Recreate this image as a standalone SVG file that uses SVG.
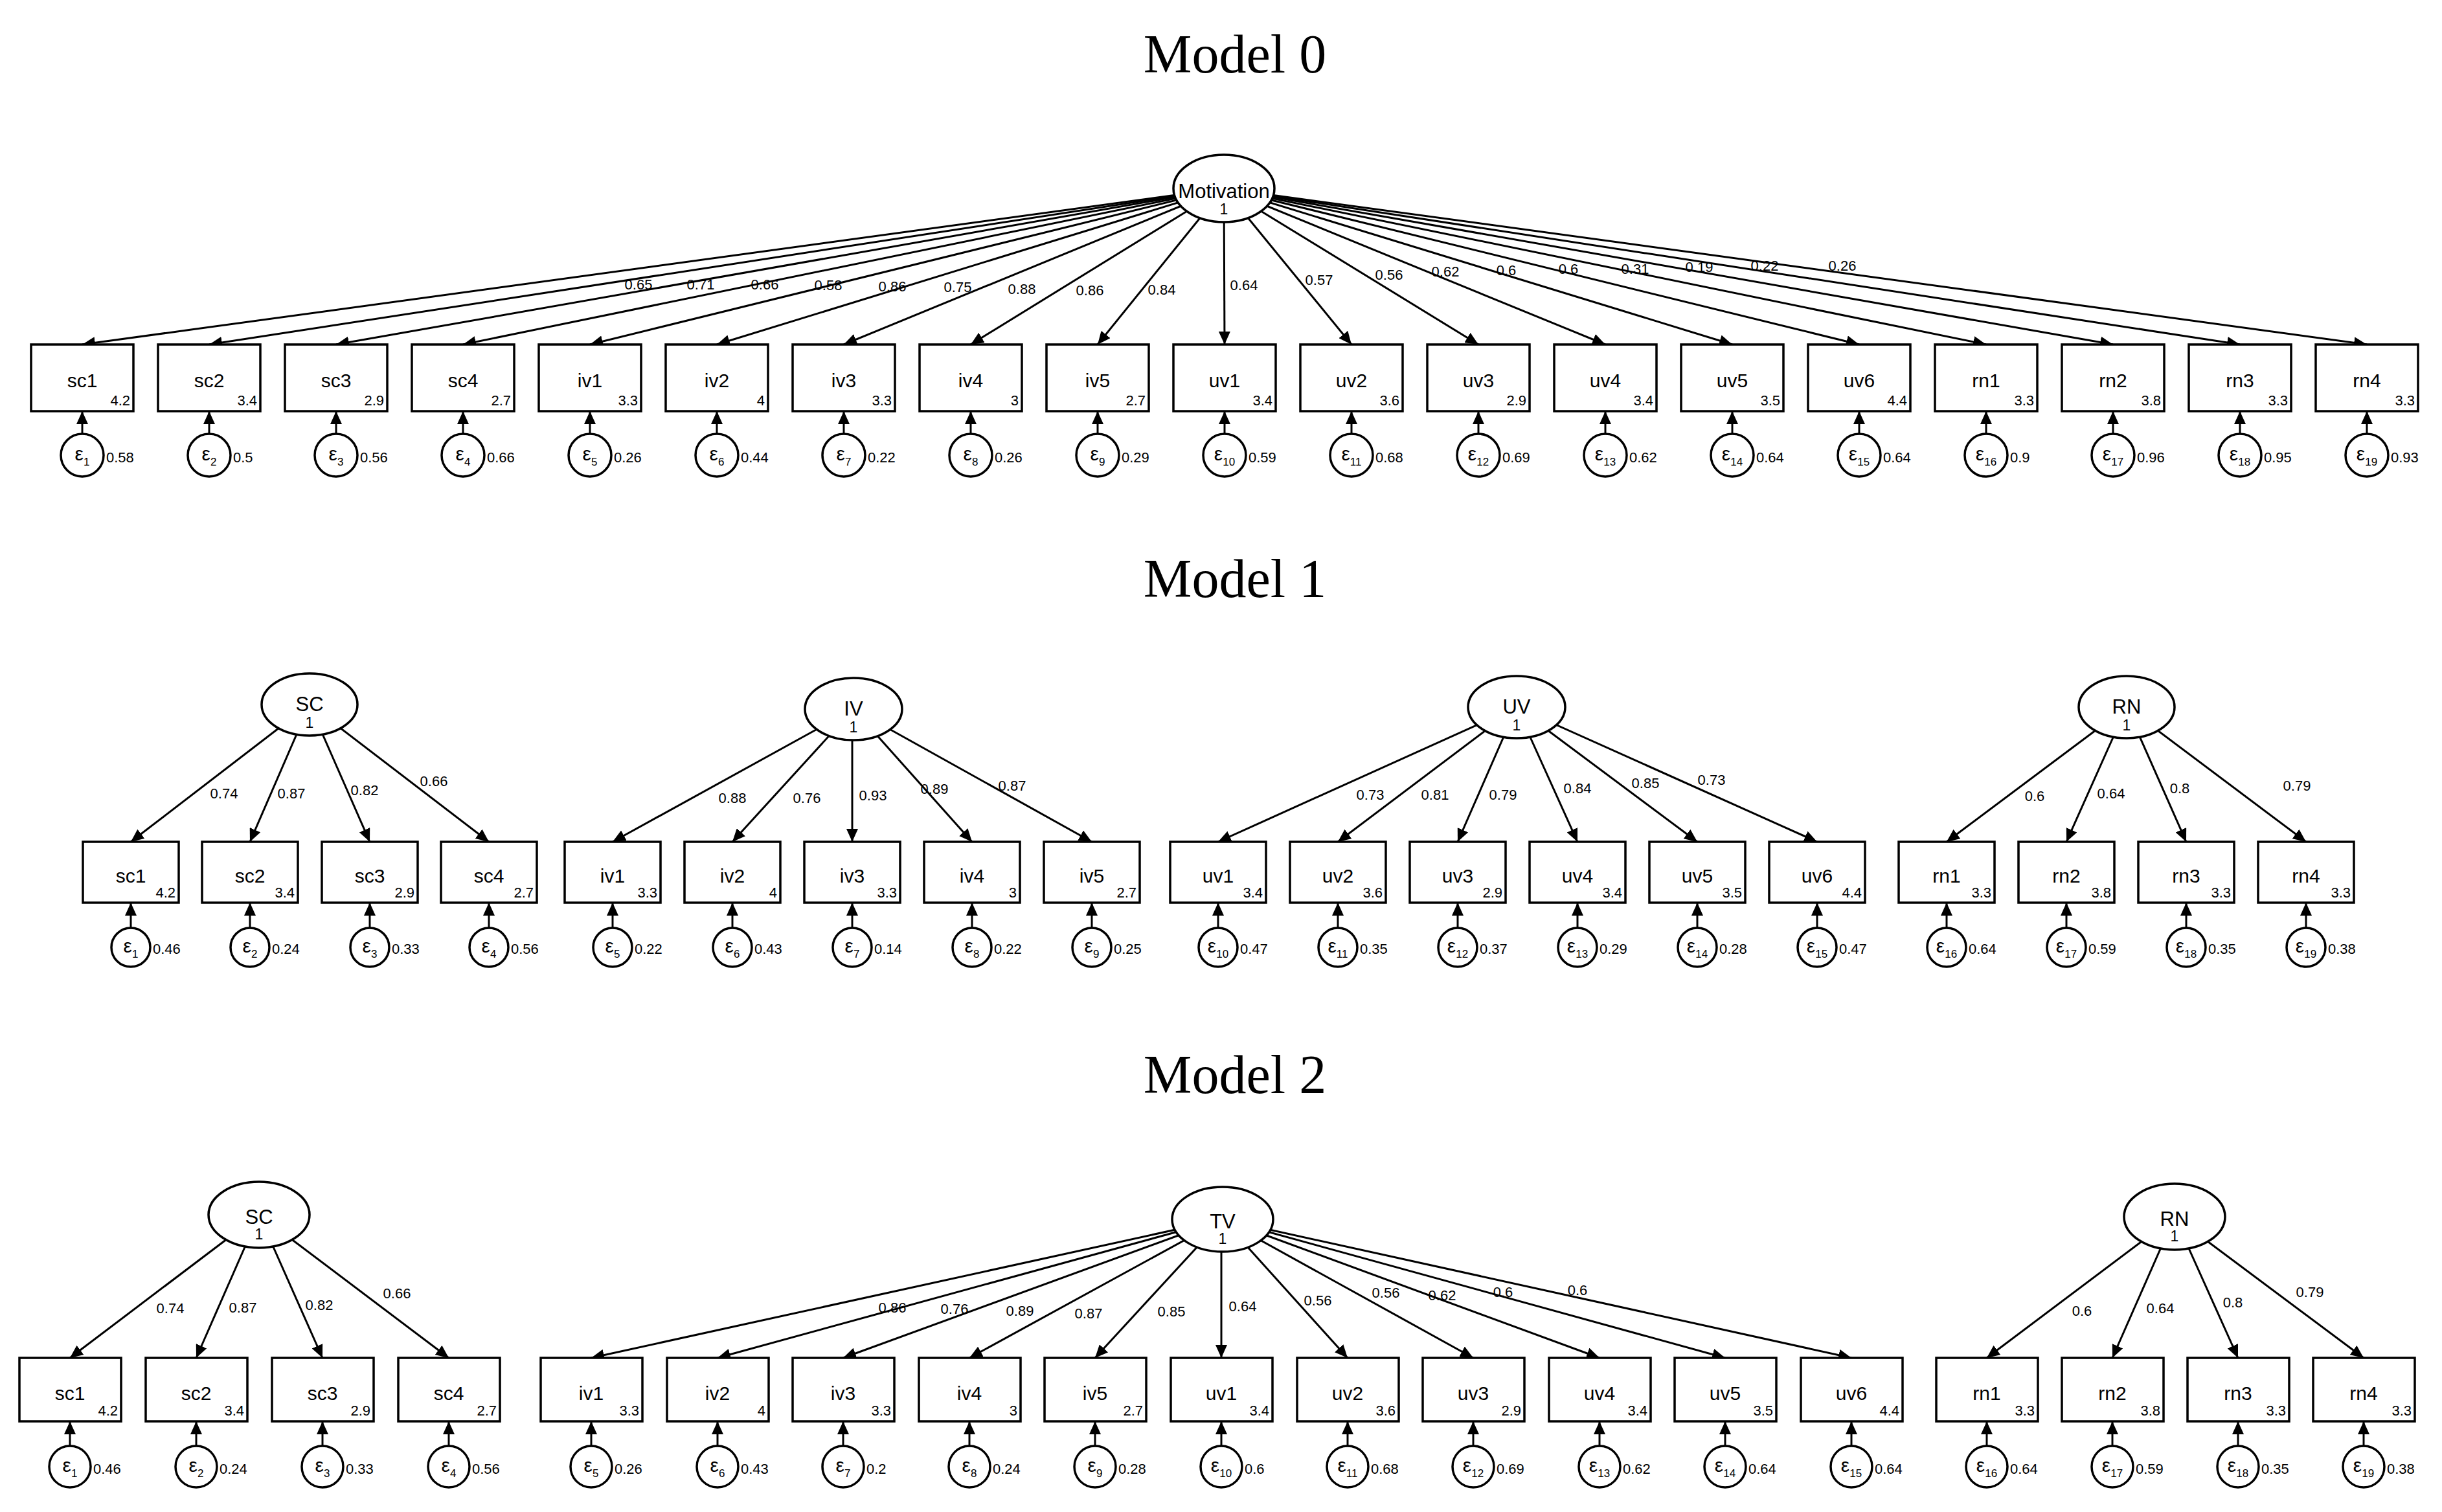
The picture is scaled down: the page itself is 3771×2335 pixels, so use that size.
<svg xmlns="http://www.w3.org/2000/svg" width="3771" height="2335" viewBox="0 0 3771 2335">
<style>
.t{font-family:"Liberation Serif",serif;font-size:84px;text-anchor:middle}
.lv ellipse{fill:#fff;stroke:#000;stroke-width:3.5}
.lv .n{font-family:"Liberation Sans",Arial,sans-serif;font-size:31px;text-anchor:middle}
.lv .v{font-family:"Liberation Sans",Arial,sans-serif;font-size:23px;text-anchor:middle}
.ob rect{fill:#fff;stroke:#000;stroke-width:3.5}
.ob .n{font-family:"Liberation Sans",Arial,sans-serif;font-size:30px;text-anchor:middle}
.ob .m{font-family:"Liberation Sans",Arial,sans-serif;font-size:22px;text-anchor:end}
.er circle{fill:#fff;stroke:#000;stroke-width:3.5}
.er .e{font-family:"Liberation Sans",Arial,sans-serif;font-size:30px;text-anchor:middle}
.er .s{font-size:17px}
.er .v{font-family:"Liberation Sans",Arial,sans-serif;font-size:22px}
#connectors line{stroke:#000;stroke-width:3;marker-end:url(#ah)}
.pl{font-family:"Liberation Sans",Arial,sans-serif;font-size:22px;text-anchor:middle}
</style>
<defs>
<marker id="ah" markerUnits="userSpaceOnUse" markerWidth="22" markerHeight="18" refX="20" refY="9" orient="auto"><path d="M0,0 L20,9 L0,18 z" fill="#000"/></marker>
</defs>
<rect width="3771" height="2335" fill="#fff"/>
<text class="t" x="1907" y="112">Model 0</text>
<text class="t" x="1907" y="922">Model 1</text>
<text class="t" x="1907" y="1688">Model 2</text>

<g id="connectors">
<!-- Model 0 -->
<line x1="1890" y1="291" x2="127" y2="532"/><line x1="1890" y1="291" x2="323" y2="532"/><line x1="1890" y1="291" x2="519" y2="532"/><line x1="1890" y1="291" x2="715" y2="532"/><line x1="1890" y1="291" x2="911" y2="532"/><line x1="1890" y1="291" x2="1107" y2="532"/><line x1="1890" y1="291" x2="1303" y2="532"/><line x1="1890" y1="291" x2="1499" y2="532"/><line x1="1890" y1="291" x2="1695" y2="532"/><line x1="1890" y1="291" x2="1891" y2="532"/><line x1="1890" y1="291" x2="2087" y2="532"/><line x1="1890" y1="291" x2="2283" y2="532"/><line x1="1890" y1="291" x2="2479" y2="532"/><line x1="1890" y1="291" x2="2675" y2="532"/><line x1="1890" y1="291" x2="2871" y2="532"/><line x1="1890" y1="291" x2="3067" y2="532"/><line x1="1890" y1="291" x2="3263" y2="532"/><line x1="1890" y1="291" x2="3459" y2="532"/><line x1="1890" y1="291" x2="3655" y2="532"/>
<line x1="127" y1="703" x2="127" y2="635"/><line x1="323" y1="703" x2="323" y2="635"/><line x1="519" y1="703" x2="519" y2="635"/><line x1="715" y1="703" x2="715" y2="635"/><line x1="911" y1="703" x2="911" y2="635"/><line x1="1107" y1="703" x2="1107" y2="635"/><line x1="1303" y1="703" x2="1303" y2="635"/><line x1="1499" y1="703" x2="1499" y2="635"/><line x1="1695" y1="703" x2="1695" y2="635"/><line x1="1891" y1="703" x2="1891" y2="635"/><line x1="2087" y1="703" x2="2087" y2="635"/><line x1="2283" y1="703" x2="2283" y2="635"/><line x1="2479" y1="703" x2="2479" y2="635"/><line x1="2675" y1="703" x2="2675" y2="635"/><line x1="2871" y1="703" x2="2871" y2="635"/><line x1="3067" y1="703" x2="3067" y2="635"/><line x1="3263" y1="703" x2="3263" y2="635"/><line x1="3459" y1="703" x2="3459" y2="635"/><line x1="3655" y1="703" x2="3655" y2="635"/>
<!-- Model 1 -->
<line x1="478" y1="1088" x2="202" y2="1300"/><line x1="478" y1="1088" x2="386" y2="1300"/><line x1="478" y1="1088" x2="571" y2="1300"/><line x1="478" y1="1088" x2="755" y2="1300"/>
<line x1="1318" y1="1095" x2="946" y2="1300"/><line x1="1318" y1="1095" x2="1131" y2="1300"/><line x1="1316" y1="1095" x2="1316" y2="1300"/><line x1="1318" y1="1095" x2="1501" y2="1300"/><line x1="1318" y1="1095" x2="1686" y2="1300"/>
<line x1="2342" y1="1092" x2="1881" y2="1300"/><line x1="2342" y1="1092" x2="2066" y2="1300"/><line x1="2342" y1="1092" x2="2251" y2="1300"/><line x1="2342" y1="1092" x2="2436" y2="1300"/><line x1="2342" y1="1092" x2="2621" y2="1300"/><line x1="2342" y1="1092" x2="2806" y2="1300"/>
<line x1="3284" y1="1092" x2="3006" y2="1300"/><line x1="3284" y1="1092" x2="3191" y2="1300"/><line x1="3284" y1="1092" x2="3376" y2="1300"/><line x1="3284" y1="1092" x2="3561" y2="1300"/>
<line x1="202" y1="1463" x2="202" y2="1394"/><line x1="386" y1="1463" x2="386" y2="1394"/><line x1="571" y1="1463" x2="571" y2="1394"/><line x1="755" y1="1463" x2="755" y2="1394"/><line x1="946" y1="1463" x2="946" y2="1394"/><line x1="1131" y1="1463" x2="1131" y2="1394"/><line x1="1316" y1="1463" x2="1316" y2="1394"/><line x1="1501" y1="1463" x2="1501" y2="1394"/><line x1="1686" y1="1463" x2="1686" y2="1394"/><line x1="1881" y1="1463" x2="1881" y2="1394"/><line x1="2066" y1="1463" x2="2066" y2="1394"/><line x1="2251" y1="1463" x2="2251" y2="1394"/><line x1="2436" y1="1463" x2="2436" y2="1394"/><line x1="2621" y1="1463" x2="2621" y2="1394"/><line x1="2806" y1="1463" x2="2806" y2="1394"/><line x1="3006" y1="1463" x2="3006" y2="1394"/><line x1="3191" y1="1463" x2="3191" y2="1394"/><line x1="3376" y1="1463" x2="3376" y2="1394"/><line x1="3561" y1="1463" x2="3561" y2="1394"/>
<!-- Model 2 -->
<line x1="400" y1="1876" x2="108" y2="2097"/><line x1="400" y1="1876" x2="303" y2="2097"/><line x1="400" y1="1876" x2="498" y2="2097"/><line x1="400" y1="1876" x2="693" y2="2097"/>
<line x1="1888" y1="1883" x2="913" y2="2097"/><line x1="1888" y1="1883" x2="1108" y2="2097"/><line x1="1888" y1="1883" x2="1302" y2="2097"/><line x1="1888" y1="1883" x2="1497" y2="2097"/><line x1="1888" y1="1883" x2="1691" y2="2097"/><line x1="1886" y1="1883" x2="1886" y2="2097"/><line x1="1888" y1="1883" x2="2081" y2="2097"/><line x1="1888" y1="1883" x2="2275" y2="2097"/><line x1="1888" y1="1883" x2="2470" y2="2097"/><line x1="1888" y1="1883" x2="2664" y2="2097"/><line x1="1888" y1="1883" x2="2859" y2="2097"/>
<line x1="3358" y1="1879" x2="3068" y2="2097"/><line x1="3358" y1="1879" x2="3262" y2="2097"/><line x1="3358" y1="1879" x2="3456" y2="2097"/><line x1="3358" y1="1879" x2="3650" y2="2097"/>
<line x1="108" y1="2265" x2="108" y2="2195"/><line x1="303" y1="2265" x2="303" y2="2195"/><line x1="498" y1="2265" x2="498" y2="2195"/><line x1="693" y1="2265" x2="693" y2="2195"/><line x1="913" y1="2265" x2="913" y2="2195"/><line x1="1108" y1="2265" x2="1108" y2="2195"/><line x1="1302" y1="2265" x2="1302" y2="2195"/><line x1="1497" y1="2265" x2="1497" y2="2195"/><line x1="1691" y1="2265" x2="1691" y2="2195"/><line x1="1886" y1="2265" x2="1886" y2="2195"/><line x1="2081" y1="2265" x2="2081" y2="2195"/><line x1="2275" y1="2265" x2="2275" y2="2195"/><line x1="2470" y1="2265" x2="2470" y2="2195"/><line x1="2664" y1="2265" x2="2664" y2="2195"/><line x1="2859" y1="2265" x2="2859" y2="2195"/><line x1="3068" y1="2265" x2="3068" y2="2195"/><line x1="3262" y1="2265" x2="3262" y2="2195"/><line x1="3456" y1="2265" x2="3456" y2="2195"/><line x1="3650" y1="2265" x2="3650" y2="2195"/>
</g>

<g id="path-labels">
<text class="pl" x="986" y="447">0.65</text><text class="pl" x="1082" y="447">0.71</text><text class="pl" x="1181" y="447">0.66</text><text class="pl" x="1279" y="448">0.58</text><text class="pl" x="1378" y="450">0.86</text><text class="pl" x="1479" y="451">0.75</text><text class="pl" x="1578" y="454">0.88</text><text class="pl" x="1683" y="456">0.86</text><text class="pl" x="1794" y="455">0.84</text><text class="pl" x="1921" y="448">0.64</text><text class="pl" x="2037" y="440">0.57</text><text class="pl" x="2145" y="432">0.56</text><text class="pl" x="2232" y="427">0.62</text><text class="pl" x="2326" y="425">0.6</text><text class="pl" x="2422" y="423">0.6</text><text class="pl" x="2525" y="423">0.31</text><text class="pl" x="2624" y="420">0.19</text><text class="pl" x="2725" y="418">0.22</text><text class="pl" x="2845" y="418">0.26</text>
<text class="pl" x="346" y="1233">0.74</text><text class="pl" x="450" y="1233">0.87</text><text class="pl" x="563" y="1228">0.82</text><text class="pl" x="670" y="1214">0.66</text>
<text class="pl" x="1131" y="1240">0.88</text><text class="pl" x="1246" y="1240">0.76</text><text class="pl" x="1348" y="1236">0.93</text><text class="pl" x="1443" y="1226">0.89</text><text class="pl" x="1563" y="1221">0.87</text>
<text class="pl" x="2116" y="1235">0.73</text><text class="pl" x="2216" y="1235">0.81</text><text class="pl" x="2321" y="1235">0.79</text><text class="pl" x="2436" y="1225">0.84</text><text class="pl" x="2541" y="1217">0.85</text><text class="pl" x="2643" y="1212">0.73</text>
<text class="pl" x="3142" y="1237">0.6</text><text class="pl" x="3260" y="1233">0.64</text><text class="pl" x="3366" y="1225">0.8</text><text class="pl" x="3547" y="1221">0.79</text>
<text class="pl" x="263" y="2028">0.74</text><text class="pl" x="375" y="2027">0.87</text><text class="pl" x="493" y="2023">0.82</text><text class="pl" x="613" y="2005">0.66</text>
<text class="pl" x="1378" y="2027">0.86</text><text class="pl" x="1474" y="2029">0.76</text><text class="pl" x="1575" y="2032">0.89</text><text class="pl" x="1681" y="2036">0.87</text><text class="pl" x="1809" y="2033">0.85</text><text class="pl" x="1919" y="2025">0.64</text><text class="pl" x="2035" y="2016">0.56</text><text class="pl" x="2140" y="2004">0.56</text><text class="pl" x="2227" y="2008">0.62</text><text class="pl" x="2321" y="2003">0.6</text><text class="pl" x="2436" y="2000">0.6</text>
<text class="pl" x="3215" y="2032">0.6</text><text class="pl" x="3336" y="2028">0.64</text><text class="pl" x="3448" y="2019">0.8</text><text class="pl" x="3567" y="2003">0.79</text>
</g>

<!-- Model 0 nodes -->
<g id="m0-Motivation" class="lv"><ellipse cx="1890" cy="291" rx="78" ry="52"/><text class="n" x="1890" y="306">Motivation</text><text class="v" x="1890" y="331">1</text></g>
<g id="m0-sc1" class="ob"><rect x="48" y="532" width="158" height="103"/><text class="n" x="127" y="598">sc1</text><text class="m" x="201" y="626">4.2</text></g>
<g id="m0-sc2" class="ob"><rect x="244" y="532" width="158" height="103"/><text class="n" x="323" y="598">sc2</text><text class="m" x="397" y="626">3.4</text></g>
<g id="m0-sc3" class="ob"><rect x="440" y="532" width="158" height="103"/><text class="n" x="519" y="598">sc3</text><text class="m" x="593" y="626">2.9</text></g>
<g id="m0-sc4" class="ob"><rect x="636" y="532" width="158" height="103"/><text class="n" x="715" y="598">sc4</text><text class="m" x="789" y="626">2.7</text></g>
<g id="m0-iv1" class="ob"><rect x="832" y="532" width="158" height="103"/><text class="n" x="911" y="598">iv1</text><text class="m" x="985" y="626">3.3</text></g>
<g id="m0-iv2" class="ob"><rect x="1028" y="532" width="158" height="103"/><text class="n" x="1107" y="598">iv2</text><text class="m" x="1181" y="626">4</text></g>
<g id="m0-iv3" class="ob"><rect x="1224" y="532" width="158" height="103"/><text class="n" x="1303" y="598">iv3</text><text class="m" x="1377" y="626">3.3</text></g>
<g id="m0-iv4" class="ob"><rect x="1420" y="532" width="158" height="103"/><text class="n" x="1499" y="598">iv4</text><text class="m" x="1573" y="626">3</text></g>
<g id="m0-iv5" class="ob"><rect x="1616" y="532" width="158" height="103"/><text class="n" x="1695" y="598">iv5</text><text class="m" x="1769" y="626">2.7</text></g>
<g id="m0-uv1" class="ob"><rect x="1812" y="532" width="158" height="103"/><text class="n" x="1891" y="598">uv1</text><text class="m" x="1965" y="626">3.4</text></g>
<g id="m0-uv2" class="ob"><rect x="2008" y="532" width="158" height="103"/><text class="n" x="2087" y="598">uv2</text><text class="m" x="2161" y="626">3.6</text></g>
<g id="m0-uv3" class="ob"><rect x="2204" y="532" width="158" height="103"/><text class="n" x="2283" y="598">uv3</text><text class="m" x="2357" y="626">2.9</text></g>
<g id="m0-uv4" class="ob"><rect x="2400" y="532" width="158" height="103"/><text class="n" x="2479" y="598">uv4</text><text class="m" x="2553" y="626">3.4</text></g>
<g id="m0-uv5" class="ob"><rect x="2596" y="532" width="158" height="103"/><text class="n" x="2675" y="598">uv5</text><text class="m" x="2749" y="626">3.5</text></g>
<g id="m0-uv6" class="ob"><rect x="2792" y="532" width="158" height="103"/><text class="n" x="2871" y="598">uv6</text><text class="m" x="2945" y="626">4.4</text></g>
<g id="m0-rn1" class="ob"><rect x="2988" y="532" width="158" height="103"/><text class="n" x="3067" y="598">rn1</text><text class="m" x="3141" y="626">3.3</text></g>
<g id="m0-rn2" class="ob"><rect x="3184" y="532" width="158" height="103"/><text class="n" x="3263" y="598">rn2</text><text class="m" x="3337" y="626">3.8</text></g>
<g id="m0-rn3" class="ob"><rect x="3380" y="532" width="158" height="103"/><text class="n" x="3459" y="598">rn3</text><text class="m" x="3533" y="626">3.3</text></g>
<g id="m0-rn4" class="ob"><rect x="3576" y="532" width="158" height="103"/><text class="n" x="3655" y="598">rn4</text><text class="m" x="3729" y="626">3.3</text></g>
<g id="m0-e1" class="er"><circle cx="127" cy="703" r="33"/><text class="e" x="127" y="711">ε<tspan class="s" dy="8">1</tspan></text><text class="v" x="164" y="714">0.58</text></g>
<g id="m0-e2" class="er"><circle cx="323" cy="703" r="33"/><text class="e" x="323" y="711">ε<tspan class="s" dy="8">2</tspan></text><text class="v" x="360" y="714">0.5</text></g>
<g id="m0-e3" class="er"><circle cx="519" cy="703" r="33"/><text class="e" x="519" y="711">ε<tspan class="s" dy="8">3</tspan></text><text class="v" x="556" y="714">0.56</text></g>
<g id="m0-e4" class="er"><circle cx="715" cy="703" r="33"/><text class="e" x="715" y="711">ε<tspan class="s" dy="8">4</tspan></text><text class="v" x="752" y="714">0.66</text></g>
<g id="m0-e5" class="er"><circle cx="911" cy="703" r="33"/><text class="e" x="911" y="711">ε<tspan class="s" dy="8">5</tspan></text><text class="v" x="948" y="714">0.26</text></g>
<g id="m0-e6" class="er"><circle cx="1107" cy="703" r="33"/><text class="e" x="1107" y="711">ε<tspan class="s" dy="8">6</tspan></text><text class="v" x="1144" y="714">0.44</text></g>
<g id="m0-e7" class="er"><circle cx="1303" cy="703" r="33"/><text class="e" x="1303" y="711">ε<tspan class="s" dy="8">7</tspan></text><text class="v" x="1340" y="714">0.22</text></g>
<g id="m0-e8" class="er"><circle cx="1499" cy="703" r="33"/><text class="e" x="1499" y="711">ε<tspan class="s" dy="8">8</tspan></text><text class="v" x="1536" y="714">0.26</text></g>
<g id="m0-e9" class="er"><circle cx="1695" cy="703" r="33"/><text class="e" x="1695" y="711">ε<tspan class="s" dy="8">9</tspan></text><text class="v" x="1732" y="714">0.29</text></g>
<g id="m0-e10" class="er"><circle cx="1891" cy="703" r="33"/><text class="e" x="1891" y="711">ε<tspan class="s" dy="8">10</tspan></text><text class="v" x="1928" y="714">0.59</text></g>
<g id="m0-e11" class="er"><circle cx="2087" cy="703" r="33"/><text class="e" x="2087" y="711">ε<tspan class="s" dy="8">11</tspan></text><text class="v" x="2124" y="714">0.68</text></g>
<g id="m0-e12" class="er"><circle cx="2283" cy="703" r="33"/><text class="e" x="2283" y="711">ε<tspan class="s" dy="8">12</tspan></text><text class="v" x="2320" y="714">0.69</text></g>
<g id="m0-e13" class="er"><circle cx="2479" cy="703" r="33"/><text class="e" x="2479" y="711">ε<tspan class="s" dy="8">13</tspan></text><text class="v" x="2516" y="714">0.62</text></g>
<g id="m0-e14" class="er"><circle cx="2675" cy="703" r="33"/><text class="e" x="2675" y="711">ε<tspan class="s" dy="8">14</tspan></text><text class="v" x="2712" y="714">0.64</text></g>
<g id="m0-e15" class="er"><circle cx="2871" cy="703" r="33"/><text class="e" x="2871" y="711">ε<tspan class="s" dy="8">15</tspan></text><text class="v" x="2908" y="714">0.64</text></g>
<g id="m0-e16" class="er"><circle cx="3067" cy="703" r="33"/><text class="e" x="3067" y="711">ε<tspan class="s" dy="8">16</tspan></text><text class="v" x="3104" y="714">0.9</text></g>
<g id="m0-e17" class="er"><circle cx="3263" cy="703" r="33"/><text class="e" x="3263" y="711">ε<tspan class="s" dy="8">17</tspan></text><text class="v" x="3300" y="714">0.96</text></g>
<g id="m0-e18" class="er"><circle cx="3459" cy="703" r="33"/><text class="e" x="3459" y="711">ε<tspan class="s" dy="8">18</tspan></text><text class="v" x="3496" y="714">0.95</text></g>
<g id="m0-e19" class="er"><circle cx="3655" cy="703" r="33"/><text class="e" x="3655" y="711">ε<tspan class="s" dy="8">19</tspan></text><text class="v" x="3692" y="714">0.93</text></g>

<!-- Model 1 nodes -->
<g id="m1-SC" class="lv"><ellipse cx="478" cy="1088" rx="74" ry="48"/><text class="n" x="478" y="1098">SC</text><text class="v" x="478" y="1124">1</text></g>
<g id="m1-IV" class="lv"><ellipse cx="1318" cy="1095" rx="75" ry="48"/><text class="n" x="1318" y="1105">IV</text><text class="v" x="1318" y="1131">1</text></g>
<g id="m1-UV" class="lv"><ellipse cx="2342" cy="1092" rx="75" ry="48"/><text class="n" x="2342" y="1102">UV</text><text class="v" x="2342" y="1128">1</text></g>
<g id="m1-RN" class="lv"><ellipse cx="3284" cy="1092" rx="74" ry="48"/><text class="n" x="3284" y="1102">RN</text><text class="v" x="3284" y="1128">1</text></g>
<g id="m1-sc1" class="ob"><rect x="128" y="1300" width="148" height="94"/><text class="n" x="202" y="1363">sc1</text><text class="m" x="271" y="1386">4.2</text></g>
<g id="m1-sc2" class="ob"><rect x="312" y="1300" width="148" height="94"/><text class="n" x="386" y="1363">sc2</text><text class="m" x="455" y="1386">3.4</text></g>
<g id="m1-sc3" class="ob"><rect x="497" y="1300" width="148" height="94"/><text class="n" x="571" y="1363">sc3</text><text class="m" x="640" y="1386">2.9</text></g>
<g id="m1-sc4" class="ob"><rect x="681" y="1300" width="148" height="94"/><text class="n" x="755" y="1363">sc4</text><text class="m" x="824" y="1386">2.7</text></g>
<g id="m1-iv1" class="ob"><rect x="872" y="1300" width="148" height="94"/><text class="n" x="946" y="1363">iv1</text><text class="m" x="1015" y="1386">3.3</text></g>
<g id="m1-iv2" class="ob"><rect x="1057" y="1300" width="148" height="94"/><text class="n" x="1131" y="1363">iv2</text><text class="m" x="1200" y="1386">4</text></g>
<g id="m1-iv3" class="ob"><rect x="1242" y="1300" width="148" height="94"/><text class="n" x="1316" y="1363">iv3</text><text class="m" x="1385" y="1386">3.3</text></g>
<g id="m1-iv4" class="ob"><rect x="1427" y="1300" width="148" height="94"/><text class="n" x="1501" y="1363">iv4</text><text class="m" x="1570" y="1386">3</text></g>
<g id="m1-iv5" class="ob"><rect x="1612" y="1300" width="148" height="94"/><text class="n" x="1686" y="1363">iv5</text><text class="m" x="1755" y="1386">2.7</text></g>
<g id="m1-uv1" class="ob"><rect x="1807" y="1300" width="148" height="94"/><text class="n" x="1881" y="1363">uv1</text><text class="m" x="1950" y="1386">3.4</text></g>
<g id="m1-uv2" class="ob"><rect x="1992" y="1300" width="148" height="94"/><text class="n" x="2066" y="1363">uv2</text><text class="m" x="2135" y="1386">3.6</text></g>
<g id="m1-uv3" class="ob"><rect x="2177" y="1300" width="148" height="94"/><text class="n" x="2251" y="1363">uv3</text><text class="m" x="2320" y="1386">2.9</text></g>
<g id="m1-uv4" class="ob"><rect x="2362" y="1300" width="148" height="94"/><text class="n" x="2436" y="1363">uv4</text><text class="m" x="2505" y="1386">3.4</text></g>
<g id="m1-uv5" class="ob"><rect x="2547" y="1300" width="148" height="94"/><text class="n" x="2621" y="1363">uv5</text><text class="m" x="2690" y="1386">3.5</text></g>
<g id="m1-uv6" class="ob"><rect x="2732" y="1300" width="148" height="94"/><text class="n" x="2806" y="1363">uv6</text><text class="m" x="2875" y="1386">4.4</text></g>
<g id="m1-rn1" class="ob"><rect x="2932" y="1300" width="148" height="94"/><text class="n" x="3006" y="1363">rn1</text><text class="m" x="3075" y="1386">3.3</text></g>
<g id="m1-rn2" class="ob"><rect x="3117" y="1300" width="148" height="94"/><text class="n" x="3191" y="1363">rn2</text><text class="m" x="3260" y="1386">3.8</text></g>
<g id="m1-rn3" class="ob"><rect x="3302" y="1300" width="148" height="94"/><text class="n" x="3376" y="1363">rn3</text><text class="m" x="3445" y="1386">3.3</text></g>
<g id="m1-rn4" class="ob"><rect x="3487" y="1300" width="148" height="94"/><text class="n" x="3561" y="1363">rn4</text><text class="m" x="3630" y="1386">3.3</text></g>
<g id="m1-e1" class="er"><circle cx="202" cy="1463" r="30"/><text class="e" x="202" y="1471">ε<tspan class="s" dy="8">1</tspan></text><text class="v" x="236" y="1473">0.46</text></g>
<g id="m1-e2" class="er"><circle cx="386" cy="1463" r="30"/><text class="e" x="386" y="1471">ε<tspan class="s" dy="8">2</tspan></text><text class="v" x="420" y="1473">0.24</text></g>
<g id="m1-e3" class="er"><circle cx="571" cy="1463" r="30"/><text class="e" x="571" y="1471">ε<tspan class="s" dy="8">3</tspan></text><text class="v" x="605" y="1473">0.33</text></g>
<g id="m1-e4" class="er"><circle cx="755" cy="1463" r="30"/><text class="e" x="755" y="1471">ε<tspan class="s" dy="8">4</tspan></text><text class="v" x="789" y="1473">0.56</text></g>
<g id="m1-e5" class="er"><circle cx="946" cy="1463" r="30"/><text class="e" x="946" y="1471">ε<tspan class="s" dy="8">5</tspan></text><text class="v" x="980" y="1473">0.22</text></g>
<g id="m1-e6" class="er"><circle cx="1131" cy="1463" r="30"/><text class="e" x="1131" y="1471">ε<tspan class="s" dy="8">6</tspan></text><text class="v" x="1165" y="1473">0.43</text></g>
<g id="m1-e7" class="er"><circle cx="1316" cy="1463" r="30"/><text class="e" x="1316" y="1471">ε<tspan class="s" dy="8">7</tspan></text><text class="v" x="1350" y="1473">0.14</text></g>
<g id="m1-e8" class="er"><circle cx="1501" cy="1463" r="30"/><text class="e" x="1501" y="1471">ε<tspan class="s" dy="8">8</tspan></text><text class="v" x="1535" y="1473">0.22</text></g>
<g id="m1-e9" class="er"><circle cx="1686" cy="1463" r="30"/><text class="e" x="1686" y="1471">ε<tspan class="s" dy="8">9</tspan></text><text class="v" x="1720" y="1473">0.25</text></g>
<g id="m1-e10" class="er"><circle cx="1881" cy="1463" r="30"/><text class="e" x="1881" y="1471">ε<tspan class="s" dy="8">10</tspan></text><text class="v" x="1915" y="1473">0.47</text></g>
<g id="m1-e11" class="er"><circle cx="2066" cy="1463" r="30"/><text class="e" x="2066" y="1471">ε<tspan class="s" dy="8">11</tspan></text><text class="v" x="2100" y="1473">0.35</text></g>
<g id="m1-e12" class="er"><circle cx="2251" cy="1463" r="30"/><text class="e" x="2251" y="1471">ε<tspan class="s" dy="8">12</tspan></text><text class="v" x="2285" y="1473">0.37</text></g>
<g id="m1-e13" class="er"><circle cx="2436" cy="1463" r="30"/><text class="e" x="2436" y="1471">ε<tspan class="s" dy="8">13</tspan></text><text class="v" x="2470" y="1473">0.29</text></g>
<g id="m1-e14" class="er"><circle cx="2621" cy="1463" r="30"/><text class="e" x="2621" y="1471">ε<tspan class="s" dy="8">14</tspan></text><text class="v" x="2655" y="1473">0.28</text></g>
<g id="m1-e15" class="er"><circle cx="2806" cy="1463" r="30"/><text class="e" x="2806" y="1471">ε<tspan class="s" dy="8">15</tspan></text><text class="v" x="2840" y="1473">0.47</text></g>
<g id="m1-e16" class="er"><circle cx="3006" cy="1463" r="30"/><text class="e" x="3006" y="1471">ε<tspan class="s" dy="8">16</tspan></text><text class="v" x="3040" y="1473">0.64</text></g>
<g id="m1-e17" class="er"><circle cx="3191" cy="1463" r="30"/><text class="e" x="3191" y="1471">ε<tspan class="s" dy="8">17</tspan></text><text class="v" x="3225" y="1473">0.59</text></g>
<g id="m1-e18" class="er"><circle cx="3376" cy="1463" r="30"/><text class="e" x="3376" y="1471">ε<tspan class="s" dy="8">18</tspan></text><text class="v" x="3410" y="1473">0.35</text></g>
<g id="m1-e19" class="er"><circle cx="3561" cy="1463" r="30"/><text class="e" x="3561" y="1471">ε<tspan class="s" dy="8">19</tspan></text><text class="v" x="3595" y="1473">0.38</text></g>

<!-- Model 2 nodes -->
<g id="m2-SC" class="lv"><ellipse cx="400" cy="1876" rx="78" ry="51"/><text class="n" x="400" y="1890">SC</text><text class="v" x="400" y="1914">1</text></g>
<g id="m2-TV" class="lv"><ellipse cx="1888" cy="1883" rx="78" ry="50"/><text class="n" x="1888" y="1897">TV</text><text class="v" x="1888" y="1921">1</text></g>
<g id="m2-RN" class="lv"><ellipse cx="3358" cy="1879" rx="78" ry="51"/><text class="n" x="3358" y="1893">RN</text><text class="v" x="3358" y="1917">1</text></g>
<g id="m2-sc1" class="ob"><rect x="30" y="2097" width="157" height="98"/><text class="n" x="108" y="2162">sc1</text><text class="m" x="182" y="2186">4.2</text></g>
<g id="m2-sc2" class="ob"><rect x="225" y="2097" width="157" height="98"/><text class="n" x="303" y="2162">sc2</text><text class="m" x="377" y="2186">3.4</text></g>
<g id="m2-sc3" class="ob"><rect x="420" y="2097" width="157" height="98"/><text class="n" x="498" y="2162">sc3</text><text class="m" x="572" y="2186">2.9</text></g>
<g id="m2-sc4" class="ob"><rect x="615" y="2097" width="157" height="98"/><text class="n" x="693" y="2162">sc4</text><text class="m" x="767" y="2186">2.7</text></g>
<g id="m2-iv1" class="ob"><rect x="835" y="2097" width="157" height="98"/><text class="n" x="913" y="2162">iv1</text><text class="m" x="987" y="2186">3.3</text></g>
<g id="m2-iv2" class="ob"><rect x="1030" y="2097" width="157" height="98"/><text class="n" x="1108" y="2162">iv2</text><text class="m" x="1182" y="2186">4</text></g>
<g id="m2-iv3" class="ob"><rect x="1224" y="2097" width="157" height="98"/><text class="n" x="1302" y="2162">iv3</text><text class="m" x="1376" y="2186">3.3</text></g>
<g id="m2-iv4" class="ob"><rect x="1419" y="2097" width="157" height="98"/><text class="n" x="1497" y="2162">iv4</text><text class="m" x="1571" y="2186">3</text></g>
<g id="m2-iv5" class="ob"><rect x="1613" y="2097" width="157" height="98"/><text class="n" x="1691" y="2162">iv5</text><text class="m" x="1765" y="2186">2.7</text></g>
<g id="m2-uv1" class="ob"><rect x="1808" y="2097" width="157" height="98"/><text class="n" x="1886" y="2162">uv1</text><text class="m" x="1960" y="2186">3.4</text></g>
<g id="m2-uv2" class="ob"><rect x="2003" y="2097" width="157" height="98"/><text class="n" x="2081" y="2162">uv2</text><text class="m" x="2155" y="2186">3.6</text></g>
<g id="m2-uv3" class="ob"><rect x="2197" y="2097" width="157" height="98"/><text class="n" x="2275" y="2162">uv3</text><text class="m" x="2349" y="2186">2.9</text></g>
<g id="m2-uv4" class="ob"><rect x="2392" y="2097" width="157" height="98"/><text class="n" x="2470" y="2162">uv4</text><text class="m" x="2544" y="2186">3.4</text></g>
<g id="m2-uv5" class="ob"><rect x="2586" y="2097" width="157" height="98"/><text class="n" x="2664" y="2162">uv5</text><text class="m" x="2738" y="2186">3.5</text></g>
<g id="m2-uv6" class="ob"><rect x="2781" y="2097" width="157" height="98"/><text class="n" x="2859" y="2162">uv6</text><text class="m" x="2933" y="2186">4.4</text></g>
<g id="m2-rn1" class="ob"><rect x="2990" y="2097" width="157" height="98"/><text class="n" x="3068" y="2162">rn1</text><text class="m" x="3142" y="2186">3.3</text></g>
<g id="m2-rn2" class="ob"><rect x="3184" y="2097" width="157" height="98"/><text class="n" x="3262" y="2162">rn2</text><text class="m" x="3336" y="2186">3.8</text></g>
<g id="m2-rn3" class="ob"><rect x="3378" y="2097" width="157" height="98"/><text class="n" x="3456" y="2162">rn3</text><text class="m" x="3530" y="2186">3.3</text></g>
<g id="m2-rn4" class="ob"><rect x="3572" y="2097" width="157" height="98"/><text class="n" x="3650" y="2162">rn4</text><text class="m" x="3724" y="2186">3.3</text></g>
<g id="m2-e1" class="er"><circle cx="108" cy="2265" r="32"/><text class="e" x="108" y="2273">ε<tspan class="s" dy="8">1</tspan></text><text class="v" x="144" y="2276">0.46</text></g>
<g id="m2-e2" class="er"><circle cx="303" cy="2265" r="32"/><text class="e" x="303" y="2273">ε<tspan class="s" dy="8">2</tspan></text><text class="v" x="339" y="2276">0.24</text></g>
<g id="m2-e3" class="er"><circle cx="498" cy="2265" r="32"/><text class="e" x="498" y="2273">ε<tspan class="s" dy="8">3</tspan></text><text class="v" x="534" y="2276">0.33</text></g>
<g id="m2-e4" class="er"><circle cx="693" cy="2265" r="32"/><text class="e" x="693" y="2273">ε<tspan class="s" dy="8">4</tspan></text><text class="v" x="729" y="2276">0.56</text></g>
<g id="m2-e5" class="er"><circle cx="913" cy="2265" r="32"/><text class="e" x="913" y="2273">ε<tspan class="s" dy="8">5</tspan></text><text class="v" x="949" y="2276">0.26</text></g>
<g id="m2-e6" class="er"><circle cx="1108" cy="2265" r="32"/><text class="e" x="1108" y="2273">ε<tspan class="s" dy="8">6</tspan></text><text class="v" x="1144" y="2276">0.43</text></g>
<g id="m2-e7" class="er"><circle cx="1302" cy="2265" r="32"/><text class="e" x="1302" y="2273">ε<tspan class="s" dy="8">7</tspan></text><text class="v" x="1338" y="2276">0.2</text></g>
<g id="m2-e8" class="er"><circle cx="1497" cy="2265" r="32"/><text class="e" x="1497" y="2273">ε<tspan class="s" dy="8">8</tspan></text><text class="v" x="1533" y="2276">0.24</text></g>
<g id="m2-e9" class="er"><circle cx="1691" cy="2265" r="32"/><text class="e" x="1691" y="2273">ε<tspan class="s" dy="8">9</tspan></text><text class="v" x="1727" y="2276">0.28</text></g>
<g id="m2-e10" class="er"><circle cx="1886" cy="2265" r="32"/><text class="e" x="1886" y="2273">ε<tspan class="s" dy="8">10</tspan></text><text class="v" x="1922" y="2276">0.6</text></g>
<g id="m2-e11" class="er"><circle cx="2081" cy="2265" r="32"/><text class="e" x="2081" y="2273">ε<tspan class="s" dy="8">11</tspan></text><text class="v" x="2117" y="2276">0.68</text></g>
<g id="m2-e12" class="er"><circle cx="2275" cy="2265" r="32"/><text class="e" x="2275" y="2273">ε<tspan class="s" dy="8">12</tspan></text><text class="v" x="2311" y="2276">0.69</text></g>
<g id="m2-e13" class="er"><circle cx="2470" cy="2265" r="32"/><text class="e" x="2470" y="2273">ε<tspan class="s" dy="8">13</tspan></text><text class="v" x="2506" y="2276">0.62</text></g>
<g id="m2-e14" class="er"><circle cx="2664" cy="2265" r="32"/><text class="e" x="2664" y="2273">ε<tspan class="s" dy="8">14</tspan></text><text class="v" x="2700" y="2276">0.64</text></g>
<g id="m2-e15" class="er"><circle cx="2859" cy="2265" r="32"/><text class="e" x="2859" y="2273">ε<tspan class="s" dy="8">15</tspan></text><text class="v" x="2895" y="2276">0.64</text></g>
<g id="m2-e16" class="er"><circle cx="3068" cy="2265" r="32"/><text class="e" x="3068" y="2273">ε<tspan class="s" dy="8">16</tspan></text><text class="v" x="3104" y="2276">0.64</text></g>
<g id="m2-e17" class="er"><circle cx="3262" cy="2265" r="32"/><text class="e" x="3262" y="2273">ε<tspan class="s" dy="8">17</tspan></text><text class="v" x="3298" y="2276">0.59</text></g>
<g id="m2-e18" class="er"><circle cx="3456" cy="2265" r="32"/><text class="e" x="3456" y="2273">ε<tspan class="s" dy="8">18</tspan></text><text class="v" x="3492" y="2276">0.35</text></g>
<g id="m2-e19" class="er"><circle cx="3650" cy="2265" r="32"/><text class="e" x="3650" y="2273">ε<tspan class="s" dy="8">19</tspan></text><text class="v" x="3686" y="2276">0.38</text></g>
</svg>
